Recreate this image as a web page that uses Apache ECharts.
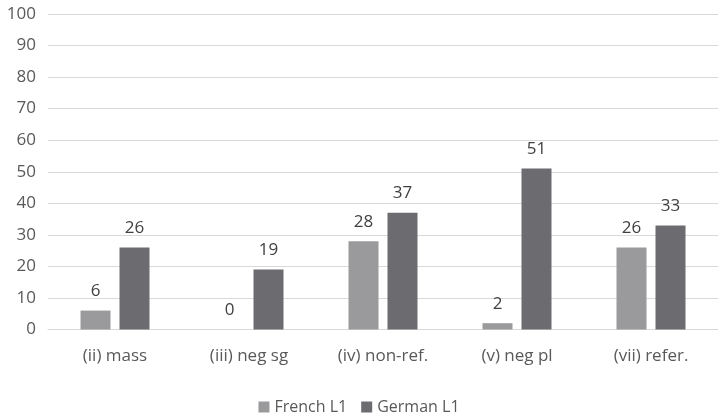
<!DOCTYPE html>
<html><head><meta charset="utf-8">
<script src="https://cdn.jsdelivr.net/npm/echarts@6/dist/echarts.min.js"></script>
<style>html,body{margin:0;padding:0;background:#fff}#c{width:718px;height:415px}</style>
</head><body><div id="c"></div>
<script>
var categories = ['(ii) mass', '(iii) neg sg', '(iv) non-ref.', '(v) neg pl', '(vii) refer.'];
var french = [6, 0, 28, 2, 26];
var german = [26, 19, 37, 51, 33];
var yTicks = {min: 0, max: 100, interval: 10};
var font = "'Open Sans', 'Liberation Sans', sans-serif";
var chart = echarts.init(document.getElementById('c'));
chart.setOption({
  animation: false,
  textStyle: {fontFamily: font},
  grid: {left: 48, top: 14, width: 677, height: 315.5, containLabel: false},
  legend: {
    top: 394, left: 'center', itemWidth: 11, itemHeight: 11, itemGap: 14, icon: 'rect',
    textStyle: {color: '#595959', fontSize: 16, fontFamily: font},
    data: ['French L1', 'German L1']
  },
  xAxis: {
    type: 'category', data: categories,
    axisLine: {lineStyle: {color: '#d9d9d9', width: 1}},
    axisTick: {show: false},
    axisLabel: {color: '#595959', fontSize: 17, margin: 18, fontFamily: font}
  },
  yAxis: {
    type: 'value', min: yTicks.min, max: yTicks.max, interval: yTicks.interval,
    axisLine: {show: false}, axisTick: {show: false},
    splitLine: {lineStyle: {color: '#d9d9d9', width: 1}},
    axisLabel: {color: '#595959', fontSize: 17, margin: 12, fontFamily: font}
  },
  series: [
    {name: 'French L1', type: 'bar', data: french, barWidth: 30, barGap: '30%',
     itemStyle: {color: '#9a9a9c'},
     label: {show: true, position: 'top', color: '#404040', fontSize: 17, distance: 11, fontFamily: font}},
    {name: 'German L1', type: 'bar', data: german, barWidth: 30,
     itemStyle: {color: '#6c6c70'},
     label: {show: true, position: 'top', color: '#404040', fontSize: 17, distance: 11, fontFamily: font}}
  ]
});
</script></body></html>
